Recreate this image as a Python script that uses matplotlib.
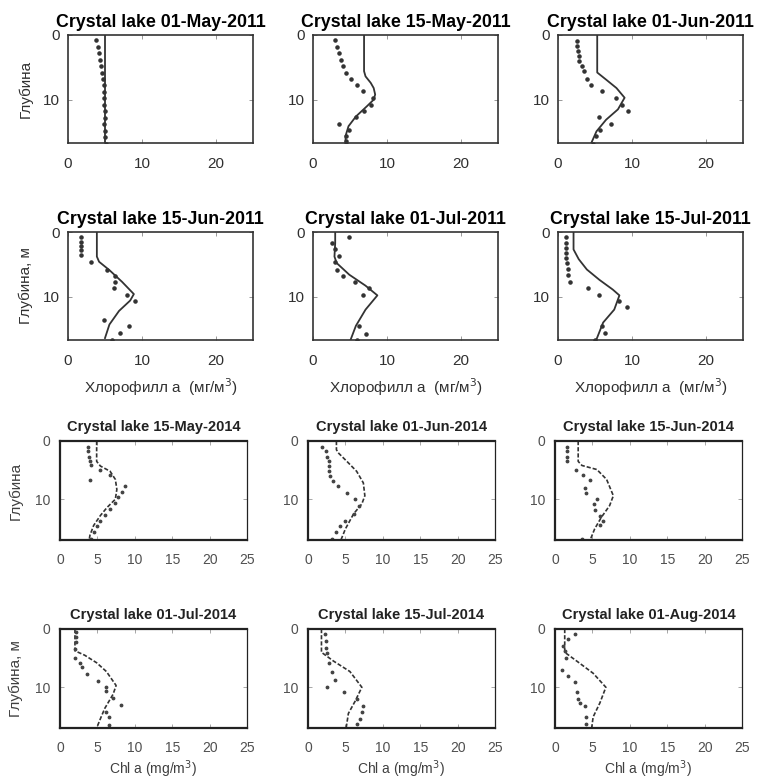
import matplotlib.pyplot as plt
import numpy as np

plt.rcParams['font.family'] = ['Liberation Sans', 'DejaVu Sans']

W, H = 759, 782

# ---- 2011 season (model line, observed points) ----
t_0501_2011 = "Crystal lake 01-May-2011"
mz_0501_2011 = [0, 16.7]
mc_0501_2011 = [5.0, 5.0]
oz_0501_2011 = [0.8, 1.8, 2.8, 3.8, 4.8, 5.8, 6.8, 7.8, 8.8, 9.8, 10.8, 11.8, 12.8, 13.8, 14.8, 15.8, 16.8]
oc_0501_2011 = [3.8, 4.0, 4.2, 4.3, 4.4, 4.6, 4.7, 4.8, 4.8, 4.9, 4.9, 5.0, 5.0, 4.9, 5.0, 5.0, 5.1]

t_0515_2011 = "Crystal lake 15-May-2011"
mz_0515_2011 = [0, 5.6, 6.4, 7.4, 8.2, 9.2, 10.0, 11.0, 12.6, 14.1, 15.6, 16.7]
mc_0515_2011 = [6.9, 6.9, 7.1, 7.8, 8.2, 8.4, 8.2, 7.3, 5.8, 4.8, 4.4, 4.4]
oz_0515_2011 = [0.8, 1.8, 2.8, 3.8, 4.8, 5.8, 6.8, 7.8, 8.7, 9.7, 10.9, 11.8, 12.7, 13.7, 14.7, 15.6, 16.4, 16.9]
oc_0515_2011 = [3.0, 3.2, 3.5, 3.8, 4.1, 4.4, 5.1, 5.9, 6.8, 8.1, 7.9, 6.9, 5.8, 3.5, 4.8, 4.5, 4.4, 4.4]

t_0601_2011 = "Crystal lake 01-Jun-2011"
mz_0601_2011 = [0, 5.8, 6.9, 8.2, 9.7, 11.5, 13.1, 14.9, 16.7]
mc_0601_2011 = [5.3, 5.3, 6.5, 7.9, 9.0, 8.1, 6.5, 5.2, 4.5]
oz_0601_2011 = [0.9, 1.7, 2.5, 3.2, 4.0, 4.8, 5.5, 6.8, 7.8, 8.7, 9.7, 10.8, 11.8, 12.7, 13.7, 14.7, 15.6, 16.8]
oc_0601_2011 = [2.5, 2.6, 2.7, 2.8, 2.9, 3.2, 3.5, 3.9, 4.4, 5.9, 7.8, 8.6, 9.4, 5.6, 7.1, 5.7, 5.2, 4.7]

t_0615_2011 = "Crystal lake 15-Jun-2011"
mz_0615_2011 = [0, 3.8, 4.6, 5.9, 7.7, 9.6, 10.6, 12.2, 14.3, 16.4]
mc_0615_2011 = [3.9, 3.9, 4.2, 5.6, 7.3, 8.9, 8.4, 6.9, 5.6, 5.0]
oz_0615_2011 = [0.8, 1.5, 2.1, 2.8, 3.5, 4.7, 5.8, 6.8, 7.7, 8.6, 9.7, 10.6, 13.6, 14.5, 15.6, 16.7]
oc_0615_2011 = [1.8, 1.8, 1.8, 1.8, 1.8, 3.1, 5.3, 6.4, 6.4, 6.2, 8.0, 9.1, 4.8, 8.2, 7.0, 6.0]

t_0701_2011 = "Crystal lake 01-Jul-2011"
mz_0701_2011 = [0, 1.7, 3.8, 4.8, 6.6, 8.3, 9.8, 12.0, 14.5, 16.6]
mc_0701_2011 = [3.0, 3.0, 2.9, 3.2, 4.9, 7.1, 8.7, 7.1, 5.8, 5.1]
oz_0701_2011 = [0.8, 1.7, 2.7, 3.7, 4.7, 5.8, 6.8, 7.7, 8.6, 9.7, 14.5, 15.7, 16.7]
oc_0701_2011 = [4.8, 2.6, 3.0, 3.5, 3.0, 3.3, 4.1, 5.7, 7.5, 6.7, 6.2, 7.2, 5.9]

t_0715_2011 = "Crystal lake 15-Jul-2011"
mz_0715_2011 = [0, 2.7, 4.2, 5.8, 7.4, 8.9, 9.8, 12.0, 14.0, 16.6]
mc_0715_2011 = [2.1, 2.1, 2.8, 3.9, 5.6, 7.4, 8.3, 7.6, 6.1, 5.2]
oz_0715_2011 = [0.8, 1.7, 2.5, 3.2, 4.0, 4.8, 5.7, 6.7, 7.7, 8.6, 9.7, 10.6, 11.6, 14.6, 15.6, 16.7]
oc_0715_2011 = [1.1, 1.1, 1.1, 1.1, 1.1, 1.2, 1.3, 1.4, 1.6, 4.0, 5.5, 8.2, 9.3, 6.0, 6.3, 5.0]

# ---- 2014 season ----
t_0515_2014 = "Crystal lake 15-May-2014"
mz_0515_2014 = [0, 3.5, 4.3, 5.2, 6.6, 8.3, 10.0, 11.4, 12.8, 14.5, 16.2, 17.0]
mc_0515_2014 = [4.9, 4.9, 5.4, 6.7, 7.4, 7.6, 7.4, 6.3, 5.4, 4.5, 4.0, 3.9]
oz_0515_2014 = [1.0, 1.8, 2.7, 3.5, 4.1, 4.9, 5.9, 6.7, 7.7, 8.8, 9.7, 10.6, 11.7, 12.7, 13.7, 14.6, 15.6, 16.8]
oc_0515_2014 = [3.7, 3.8, 3.9, 4.0, 4.1, 5.4, 6.7, 4.0, 8.7, 8.3, 7.8, 7.4, 6.7, 6.0, 5.4, 4.9, 4.5, 4.2]

t_0601_2014 = "Crystal lake 01-Jun-2014"
mz_0601_2014 = [0, 1.5, 2.1, 3.5, 5.2, 7.2, 9.4, 10.8, 12.5, 15.1, 17.0]
mc_0601_2014 = [3.8, 3.8, 4.1, 5.2, 6.5, 7.4, 7.6, 7.2, 6.1, 5.0, 4.4]
oz_0601_2014 = [1.0, 1.8, 2.7, 3.5, 4.3, 5.2, 6.0, 6.9, 7.7, 8.9, 10.0, 11.1, 12.5, 13.7, 14.6, 15.6, 16.8]
oc_0601_2014 = [1.9, 2.4, 2.6, 2.8, 2.8, 2.8, 2.9, 3.4, 4.0, 5.2, 6.3, 6.8, 6.1, 5.0, 4.3, 3.8, 3.2]

t_0615_2014 = "Crystal lake 15-Jun-2014"
mz_0615_2014 = [0, 3.5, 4.2, 4.9, 6.6, 9.4, 11.1, 13.1, 15.1, 17.0]
mc_0615_2014 = [3.1, 3.1, 3.6, 5.6, 6.9, 7.8, 7.3, 6.2, 5.3, 4.7]
oz_0615_2014 = [1.0, 1.8, 2.7, 3.5, 4.9, 5.8, 6.7, 8.0, 8.9, 9.9, 10.8, 11.8, 12.8, 13.7, 14.5, 16.8]
oc_0615_2014 = [1.6, 1.6, 1.6, 1.6, 2.8, 3.8, 4.7, 4.0, 4.1, 5.6, 5.2, 5.3, 6.0, 6.4, 6.0, 3.6]

t_0701_2014 = "Crystal lake 01-Jul-2014"
mz_0701_2014 = [0, 3.75, 4.5, 5.8, 7.3, 9.7, 11.2, 13.6, 15.1, 17.0]
mc_0701_2014 = [2.0, 2.0, 3.3, 4.9, 6.2, 7.5, 7.1, 6.0, 5.5, 4.9]
oz_0701_2014 = [0.5, 1.4, 2.3, 3.5, 4.9, 5.8, 6.6, 7.8, 8.9, 10.0, 10.6, 11.8, 13.0, 14.2, 15.1, 16.5]
oc_0701_2014 = [2.1, 2.1, 2.1, 2.0, 2.0, 2.7, 2.9, 3.6, 5.1, 6.1, 6.1, 7.1, 8.2, 6.2, 6.6, 6.6]

t_0715_2014 = "Crystal lake 15-Jul-2014"
mz_0715_2014 = [0, 4.0, 5.5, 7.3, 10.0, 12.4, 14.5, 17.0]
mc_0715_2014 = [1.8, 1.8, 3.4, 5.6, 7.2, 6.3, 5.4, 5.1]
oz_0715_2014 = [0.8, 2.0, 3.2, 4.2, 5.8, 7.3, 8.8, 10.0, 10.9, 12.1, 13.3, 14.2, 15.4, 16.3]
oc_0715_2014 = [2.3, 2.4, 2.4, 2.5, 2.8, 3.2, 3.6, 2.5, 4.8, 6.5, 7.4, 7.2, 7.0, 6.5]

t_0801_2014 = "Crystal lake 01-Aug-2014"
mz_0801_2014 = [0, 4.0, 5.5, 7.6, 10.0, 12.7, 15.1, 17.0]
mc_0801_2014 = [1.3, 1.3, 2.9, 5.1, 6.8, 6.0, 5.1, 4.9]
oz_0801_2014 = [0.8, 1.7, 2.9, 3.75, 4.9, 7.0, 8.1, 9.1, 10.9, 12.1, 12.7, 13.2, 15.1, 16.3]
oc_0801_2014 = [2.7, 1.8, 1.1, 1.3, 1.5, 0.9, 1.8, 2.7, 3.0, 3.1, 3.3, 4.0, 4.2, 4.1]

panels_2011 = [
    (t_0501_2011, mz_0501_2011, mc_0501_2011, oz_0501_2011, oc_0501_2011),
    (t_0515_2011, mz_0515_2011, mc_0515_2011, oz_0515_2011, oc_0515_2011),
    (t_0601_2011, mz_0601_2011, mc_0601_2011, oz_0601_2011, oc_0601_2011),
    (t_0615_2011, mz_0615_2011, mc_0615_2011, oz_0615_2011, oc_0615_2011),
    (t_0701_2011, mz_0701_2011, mc_0701_2011, oz_0701_2011, oc_0701_2011),
    (t_0715_2011, mz_0715_2011, mc_0715_2011, oz_0715_2011, oc_0715_2011),
]
panels_2014 = [
    (t_0515_2014, mz_0515_2014, mc_0515_2014, oz_0515_2014, oc_0515_2014),
    (t_0601_2014, mz_0601_2014, mc_0601_2014, oz_0601_2014, oc_0601_2014),
    (t_0615_2014, mz_0615_2014, mc_0615_2014, oz_0615_2014, oc_0615_2014),
    (t_0701_2014, mz_0701_2014, mc_0701_2014, oz_0701_2014, oc_0701_2014),
    (t_0715_2014, mz_0715_2014, mc_0715_2014, oz_0715_2014, oc_0715_2014),
    (t_0801_2014, mz_0801_2014, mc_0801_2014, oz_0801_2014, oc_0801_2014),
]

xticks_2011 = [0, 10, 20]
xticks_2014 = [0, 5, 10, 15, 20, 25]
yticks = [0, 10]


def px_axes(fig, left, top, width, height):
    return fig.add_axes([left / W, 1 - (top + height) / H, width / W, height / H])


fig = plt.figure(figsize=(W / 100, H / 100), dpi=100)

# upper figure: 2011
lefts = [68, 313, 558]
tops = [35, 232]
for i, (title, mz, mc, oz, oc) in enumerate(panels_2011):
    r, c = divmod(i, 3)
    ax = px_axes(fig, lefts[c], tops[r], 185, 108)
    ax.plot(mc, mz, color="#333333", lw=1.3)
    ax.plot(oc, oz, ".", color="#333333", ms=4.5)
    ax.set_xlim(0, 25)
    ax.set_ylim(16.7, 0)
    ax.set_xticks(xticks_2011)
    ax.set_yticks(yticks)
    ax.tick_params(direction="in", top=True, right=True, length=3, width=0.6,
                   labelsize=11, labelcolor="#303030", color="#888888")
    ax.tick_params(axis="x", pad=10)
    ax.tick_params(axis="y", pad=6)
    for s in ax.spines.values():
        s.set_linewidth(1.2)
        s.set_color("#333333")
    ax.set_title(title, fontsize=12.8, fontweight="bold", pad=6)
    if c == 0:
        ax.set_ylabel("Глубина" if r == 0 else "Глубина, м", fontsize=11, color="#303030")
        ax.yaxis.set_label_coords(-0.19, 0.5)
    if r == 1:
        ax.set_xlabel("Хлорофилл а  (мг/м$^3$)", fontsize=11, color="#303030", labelpad=6)

# lower figure: 2014
lefts = [60, 308, 555]
tops = [441, 629]
for i, (title, mz, mc, oz, oc) in enumerate(panels_2014):
    r, c = divmod(i, 3)
    ax = px_axes(fig, lefts[c], tops[r], 187, 99)
    ax.plot(mc, mz, color="#333333", lw=1.2, ls=(0, (2.5, 1.2)))
    ax.plot(oc, oz, ".", color="#444444", ms=3.5)
    ax.set_xlim(0, 25)
    ax.set_ylim(17, 0)
    ax.set_xticks(xticks_2014)
    ax.set_yticks(yticks)
    ax.tick_params(direction="in", top=True, right=True, length=3, width=0.6,
                   labelsize=10, labelcolor="#505050", color="#999999")
    ax.tick_params(axis="x", pad=9)
    ax.tick_params(axis="y", pad=7)
    for name, s in ax.spines.items():
        s.set_linewidth(0.9 if name == "right" else 1.6)
        s.set_color("#222222")
    ax.set_title(title, fontsize=10.5, fontweight="bold", pad=7, color="#222222")
    if c == 0:
        ax.set_ylabel("Глубина" if r == 0 else "Глубина, м", fontsize=11, color="#404040")
        ax.yaxis.set_label_coords(-0.2, 0.5)
    if r == 1:
        ax.set_xlabel("Chl a (mg/m$^3$)", fontsize=10, color="#404040", labelpad=3)

fig.savefig("out.png", dpi=100)
